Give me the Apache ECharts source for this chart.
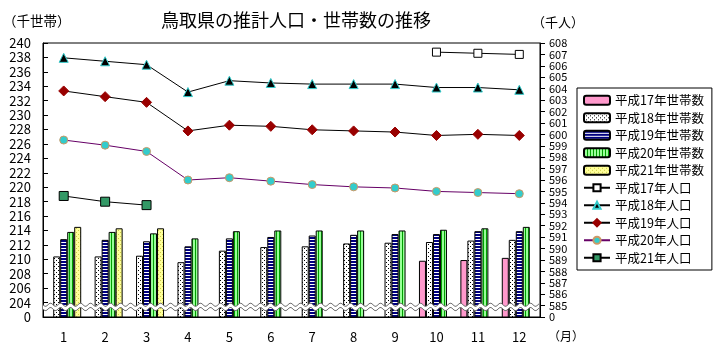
<!DOCTYPE html>
<html>
<head>
<meta charset="utf-8">
<script src="https://cdn.jsdelivr.net/npm/echarts@6/dist/echarts.min.js"></script>
<style>
html,body{margin:0;padding:0;background:#fff;}
#diagram{width:715px;height:354px;}
</style>
</head>
<body>
<div id="diagram"></div>
<script>
var months = ['1','2','3','4','5','6','7','8','9','10','11','12'];

// 世帯数 (千世帯)
var hh17 = [null,null,null,null,null,null,null,null,null,209.8,209.9,210.2];
var hh18 = [210.4,210.4,210.5,209.6,211.2,211.7,211.8,212.2,212.3,212.4,212.6,212.7];
var hh19 = [212.8,212.7,212.5,211.8,212.9,213.1,213.3,213.4,213.5,213.5,213.9,213.9];
var hh20 = [213.8,213.8,213.6,212.9,213.9,214.0,214.0,214.0,214.0,214.1,214.3,214.5];
var hh21 = [214.5,214.3,214.3,null,null,null,null,null,null,null,null,null];

// 人口 (千人)
var pop17 = [null,null,null,null,null,null,null,null,null,607.2,607.1,607.0];
var pop18 = [606.7,606.4,606.1,603.7,604.7,604.5,604.4,604.4,604.4,604.1,604.1,603.9];
var pop19 = [603.8,603.3,602.8,600.3,600.8,600.7,600.4,600.3,600.2,599.9,600.0,599.9];
var pop20 = [599.5,599.05,598.5,596.0,596.2,595.9,595.6,595.4,595.3,595.0,594.9,594.8];
var pop21 = [594.6,594.1,593.8,null,null,null,null,null,null,null,null,null];

var font = '"Noto Sans CJK JP", sans-serif';

// 塗りパターン
function pattern(w,h,draw){
	var c = document.createElement('canvas');
	c.width = w; c.height = h;
	var ctx = c.getContext('2d');
	draw(ctx);
	return {image:c, repeat:'repeat'};
}
var patDots = pattern(4,4,function(ctx){
	ctx.fillStyle='#fff';ctx.fillRect(0,0,4,4);
	ctx.fillStyle='#000';ctx.fillRect(0,0,1,1);ctx.fillRect(2,2,1,1);
});
var patBlue = pattern(3,3,function(ctx){
	ctx.fillStyle='#fff';ctx.fillRect(0,0,3,3);
	ctx.fillStyle='#000080';ctx.fillRect(0,0,3,2);
});
var patGreen = pattern(3,3,function(ctx){
	ctx.fillStyle='#99ff99';ctx.fillRect(0,0,3,3);
	ctx.fillStyle='#00a000';ctx.fillRect(0,0,1,3);
});
var patYellow = pattern(4,4,function(ctx){
	ctx.fillStyle='#ffff99';ctx.fillRect(0,0,4,4);
	ctx.fillStyle='#cccc44';ctx.fillRect(0,0,1,1);ctx.fillRect(2,2,1,1);
});

function bar(name,data,fill){
	return {
		name:name, type:'bar', yAxisIndex:0, data:data,
		barWidth:7, barGap:'0%',
		itemStyle:{color:fill, borderColor:'#000', borderWidth:1},
		z:2
	};
}
function line(name,data,symbol,size,fill,border,lineColor){
	return {
		name:name, type:'line', yAxisIndex:1, data:data,
		symbol:symbol, symbolSize:size,
		lineStyle:{color:lineColor, width:1},
		itemStyle:{color:fill, borderColor:border, borderWidth:1},
		z:5
	};
}

var option = {
	animation:false,
	backgroundColor:'#fff',
	textStyle:{fontFamily:font},
	title:{
		text:'鳥取県の推計人口・世帯数の推移',
		left:291, top:6, textAlign:'center',
		textStyle:{fontSize:18, fontWeight:'normal', color:'#000', fontFamily:font}
	},
	grid:{left:43, right:175, top:43, bottom:37, show:true, borderColor:'#000', borderWidth:1, backgroundColor:'transparent'},
	legend:{
		orient:'vertical', left:577, top:88,
		padding:[6,8,6,6], itemGap:5, itemWidth:26, itemHeight:9,
		borderColor:'#000', borderWidth:1,
		textStyle:{fontSize:12.5, color:'#000', fontFamily:font, lineHeight:12},
		data:['平成17年世帯数','平成18年世帯数','平成19年世帯数','平成20年世帯数','平成21年世帯数',
			'平成17年人口','平成18年人口','平成19年人口','平成20年人口','平成21年人口']
	},
	xAxis:{
		type:'category', data:months, boundaryGap:true,
		axisLine:{lineStyle:{color:'#000'}},
		axisTick:{inside:true, length:3, lineStyle:{color:'#000'}},
		axisLabel:{color:'#000', fontSize:13, margin:14, fontFamily:font}
	},
	yAxis:[{
		type:'value', min:202, max:240, interval:2, position:'left',
		axisLine:{show:true, lineStyle:{color:'#000'}},
		axisTick:{show:true, inside:true, length:5, lineStyle:{color:'#000'}},
		splitLine:{show:false},
		axisLabel:{color:'#000', fontSize:13, margin:12, fontFamily:font,
			showMinLabel:true, showMaxLabel:true,
			formatter:function(v){return v===202?'0':String(v);}}
	},{
		type:'value', min:584, max:608, interval:1, position:'right',
		axisLine:{show:true, lineStyle:{color:'#000'}},
		axisTick:{show:true, inside:false, length:5, lineStyle:{color:'#000'}},
		splitLine:{show:false},
		axisLabel:{color:'#000', fontSize:11, lineHeight:10, margin:9, fontFamily:font,
			showMinLabel:true, showMaxLabel:true, hideOverlap:false,
			formatter:function(v){return v===584?'0':String(v);}}
	}],
	series:[
		bar('平成17年世帯数',hh17,'#ff99cc'),
		bar('平成18年世帯数',hh18,patDots),
		bar('平成19年世帯数',hh19,patBlue),
		bar('平成20年世帯数',hh20,patGreen),
		bar('平成21年世帯数',hh21,patYellow),
		line('平成17年人口',pop17,'rect',8,'#fff','#000','#000'),
		line('平成18年人口',pop18,'triangle',9,'#000','#33cccc','#000'),
		line('平成19年人口',pop19,'diamond',10,'#990000','#990000','#000'),
		line('平成20年人口',pop20,'circle',8,'#33cccc','#cc9966','#660066'),
		line('平成21年人口',pop21,'rect',9,'#339966','#000','#000')
	]
};

var myChart = echarts.init(document.getElementById('diagram'));
myChart.setOption(option);

// 軸の省略記号 (波線)
var xl = myChart.convertToPixel({xAxisIndex:0}, 0) - 20.7;
var xr = myChart.convertToPixel({xAxisIndex:0}, 11) + 20.7;
var yTop = myChart.convertToPixel({yAxisIndex:0}, 203.7);
var yBot = myChart.convertToPixel({yAxisIndex:0}, 203.1);
var upper = [], lower = [];
for(var x = xl; x <= xr + 0.01; x += 1){
	var s = Math.sin((x - xl) / 10 * Math.PI * 2) * 1.6;
	upper.push([x, yTop + s]);
	lower.push([x, yBot + s]);
}
var poly = upper.concat(lower.slice().reverse());
myChart.setOption({
	graphic:[
		{type:'text', left:3, top:14, style:{text:'（千世帯）', fill:'#000', font:'13.5px '+font}},
		{type:'text', left:532, top:16, style:{text:'（千人）', fill:'#000', font:'13px '+font}},
		{type:'text', left:548, top:330, style:{text:'（月）', fill:'#000', font:'12px '+font}},
		{type:'polygon', z:20, shape:{points:poly}, style:{fill:'#fff', stroke:null}},
		{type:'polyline', z:21, shape:{points:upper}, style:{stroke:'#707070', lineWidth:1, fill:null}},
		{type:'polyline', z:21, shape:{points:lower}, style:{stroke:'#707070', lineWidth:1, fill:null}}
	]
});
</script>
</body>
</html>
